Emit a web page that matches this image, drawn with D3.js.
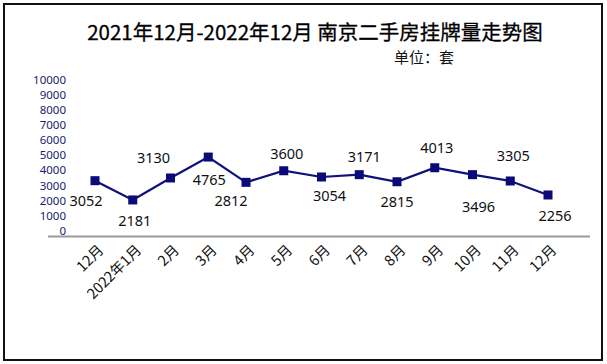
<!DOCTYPE html>
<html><head><meta charset="utf-8">
<script src="https://cdn.jsdelivr.net/npm/d3@7"></script>
<style>body{margin:0;background:#fff}svg{display:block}</style>
</head><body>
<script>
const months = ["12月","2022年1月","2月","3月","4月","5月","6月","7月","8月","9月","10月","11月","12月"];
// plotted positions
const listings = [3310, 2030, 3490, 4880, 3200, 3970, 3555, 3710, 3240, 4170, 3710, 3290, 2360];
// printed data labels
const labelTexts = ["3052","2181","3130","4765","2812","3600","3054","3171","2815","4013","3496","3305","2256"];
const yTicks = [0,1000,2000,3000,4000,5000,6000,7000,8000,9000,10000];
// label placement (layout only)
const labelDx = [-9, 2, -17, 1, -15, 3, 8, 5, 0, 2, 6, 3, 7];
const labelDy = [19, 20, -21, 22, 18, -18, 18, -19, 19, -21, 31, -26, 20];

const W = 607, H = 364;
const svg = d3.select("body").append("svg").attr("width", W).attr("height", H);
svg.append("rect").attr("x",0).attr("y",0).attr("width",W).attr("height",H).attr("fill","#fff");
svg.append("rect").attr("x",4).attr("y",4).attr("width",598).attr("height",356)
  .attr("fill","none").attr("stroke","#111").attr("stroke-width",2);

const cjk = "'Noto Sans CJK SC','Noto Sans',sans-serif";
svg.append("text").attr("x",315).attr("y",31).attr("text-anchor","middle").attr("dominant-baseline","central")
  .attr("font-family",cjk).attr("font-size",20.5).attr("font-weight",400).attr("fill","#000")
  .attr("stroke","#000").attr("stroke-width",0.3)
  .text("2021年12月-2022年12月 南京二手房挂牌量走势图");
svg.append("text").attr("x",424).attr("y",56).attr("text-anchor","middle").attr("dominant-baseline","central")
  .attr("font-family",cjk).attr("font-size",15).attr("fill","#111").text("单位：套");

const x = d3.scalePoint().domain(d3.range(months.length)).range([95, 548]);
const y = d3.scaleLinear().domain([0, 10000]).range([230.5, 80]);

// y axis labels
const yAxis = d3.axisLeft(y).tickValues(yTicks).tickSize(0).tickPadding(0).tickFormat(d3.format("d"));
const ya = svg.append("g").attr("transform","translate(66,0)").call(yAxis);
ya.select(".domain").remove();
ya.selectAll("text").attr("font-family","'Noto Sans',sans-serif").attr("font-size",11.5).attr("fill","#1c1c6c");

// x axis baseline
svg.append("line").attr("x1",48).attr("x2",590).attr("y1",236.5).attr("y2",236.5)
  .attr("stroke","#9a9a9a").attr("stroke-width",2);

// x axis labels
const xAxis = d3.axisBottom(x).tickSize(0).tickFormat(i => months[i]);
const xa = svg.append("g").attr("transform","translate(0,236)").call(xAxis);
xa.select(".domain").remove();
xa.selectAll("text").attr("font-family",cjk).attr("font-size",14.5).attr("fill","#111")
  .attr("text-anchor","end").attr("dy",0).attr("y",0)
  .attr("transform","translate(9,15) rotate(-45)");

// line
const line = d3.line().x((d,i)=>x(i)).y(d=>y(d));
svg.append("path").datum(listings).attr("d",line).attr("fill","none")
  .attr("stroke","#10107a").attr("stroke-width",2.2);
svg.selectAll("rect.m").data(listings).join("rect").attr("class","m")
  .attr("x",(d,i)=>x(i)-4.5).attr("y",d=>y(d)-4.5).attr("width",9).attr("height",9).attr("fill","#0a0a78");

// data labels
svg.selectAll("text.lbl").data(listings).join("text").attr("class","lbl")
  .attr("x",(d,i)=>x(i)+labelDx[i]).attr("y",(d,i)=>y(d)+labelDy[i])
  .attr("text-anchor","middle").attr("dominant-baseline","central")
  .attr("font-family","'Noto Sans',sans-serif").attr("font-size",14.5).attr("fill","#111")
  .text((d,i)=>labelTexts[i]);
</script>
</body></html>
